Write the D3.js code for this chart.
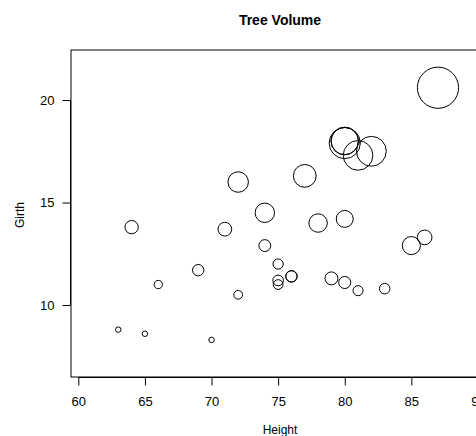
<!DOCTYPE html>
<html>
<head>
<meta charset="utf-8">
<script src="https://cdn.jsdelivr.net/npm/d3@7"></script>
<style>
  html, body { margin: 0; padding: 0; background: #fff; }
  svg { display: block; font-family: "Liberation Sans", Arial, sans-serif; }
</style>
</head>
<body>
<svg id="chart" width="476" height="436"></svg>
<script>
// Black cherry trees: height (ft), girth (in), volume (cu ft)
const height = [70, 65, 63, 72, 81, 83, 66, 75, 80, 75, 79, 76, 76, 69, 75, 74, 85, 86, 71, 64, 78, 80, 74, 72, 77, 81, 82, 80, 80, 80, 87];
const girth  = [8.3, 8.6, 8.8, 10.5, 10.7, 10.8, 11.0, 11.0, 11.1, 11.2, 11.3, 11.4, 11.4, 11.7, 12.0, 12.9, 12.9, 13.3, 13.7, 13.8, 14.0, 14.2, 14.5, 16.0, 16.3, 17.3, 17.5, 17.9, 18.0, 18.0, 20.6];
const volume = [10.3, 10.3, 10.2, 16.4, 18.8, 19.7, 15.6, 18.2, 22.6, 19.9, 24.2, 21.0, 21.4, 21.3, 19.1, 22.2, 33.8, 27.4, 25.7, 24.9, 34.5, 31.7, 36.3, 38.3, 42.6, 55.4, 55.7, 58.3, 51.5, 51.0, 77.0];
const xTicks = [60, 65, 70, 75, 80, 85, 90];
const yTicks = [10, 15, 20];

const svg = d3.select("#chart");
const plot = { left: 71, right: 489, top: 50, bottom: 377 };

const x = d3.scaleLinear().domain([59.45, 90.83]).range([plot.left, plot.right]);
const y = d3.scaleLinear().domain([6.49, 22.44]).range([plot.bottom, plot.top]);
// circle radius proportional to volume
const r = d3.scaleLinear().domain([0, 77]).range([0, 20.6]);

// circles, clipped to the plot region
svg.append("clipPath").attr("id", "plotclip")
  .append("rect").attr("x", plot.left).attr("y", plot.top)
  .attr("width", plot.right - plot.left).attr("height", plot.bottom - plot.top);

svg.append("g").attr("clip-path", "url(#plotclip)")
  .selectAll("circle")
  .data(d3.range(height.length))
  .join("circle")
  .attr("cx", i => x(height[i]))
  .attr("cy", i => y(girth[i]))
  .attr("r", i => r(volume[i]))
  .attr("fill", "none")
  .attr("stroke", "#000")
  .attr("stroke-width", 1);

// frame
svg.append("rect")
  .attr("x", plot.left).attr("y", plot.top)
  .attr("width", plot.right - plot.left).attr("height", plot.bottom - plot.top)
  .attr("fill", "none").attr("stroke", "#000").attr("stroke-width", 1);

const font = "Liberation Sans, Arial, sans-serif";

// x axis
const xAxis = d3.axisBottom(x).tickValues(xTicks).tickSize(8).tickPadding(11).tickSizeOuter(0);
const gx = svg.append("g").attr("transform", `translate(0,${plot.bottom + 0.5})`).call(xAxis);
gx.select(".domain").attr("d", `M${x(60)},0H${x(90)}`).attr("stroke", "#000");
gx.selectAll("text").attr("font-size", 13).attr("font-family", font).attr("fill", "#000");

// y axis
const yAxis = d3.axisLeft(y).tickValues(yTicks).tickSize(8).tickPadding(8).tickSizeOuter(0);
const gy = svg.append("g").attr("transform", `translate(${plot.left - 0.5},0)`).call(yAxis);
gy.select(".domain").attr("d", `M0,${y(10)}V${y(20)}`).attr("stroke", "#000");
gy.selectAll("text").attr("font-size", 13).attr("font-family", font).attr("fill", "#000");

// title and axis labels
svg.append("text").attr("x", 280).attr("y", 25).attr("text-anchor", "middle")
  .attr("font-size", 14).attr("font-weight", "bold").text("Tree Volume");
svg.append("text").attr("x", 280).attr("y", 434).attr("text-anchor", "middle")
  .attr("font-size", 12).text("Height");
svg.append("text").attr("transform", "translate(24,215) rotate(-90)").attr("text-anchor", "middle")
  .attr("font-size", 12).text("Girth");
</script>
</body>
</html>
